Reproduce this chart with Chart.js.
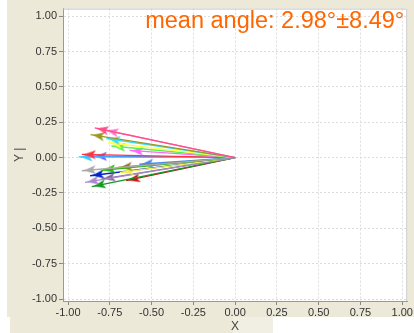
<!DOCTYPE html>
<html>
<head>
<meta charset="utf-8">
<script src="https://cdn.jsdelivr.net/npm/chart.js@4"></script>
<style>
  html, body { margin: 0; padding: 0; background: #fff; }
  #wrap { width: 414px; height: 333px; position: relative; }
</style>
</head>
<body>
<div id="wrap"><canvas id="quiver" width="414" height="333"></canvas></div>
<script>
/* ===============================
   Data (vector tips, tail at origin)
================================ */
const tipX = [-0.84, -0.78, -0.865, -0.77, -0.76, -0.74, -0.632, -0.917, -0.937, -0.85,
              -0.917, -0.80, -0.70, -0.573, -0.69, -0.868, -0.898, -0.80, -0.858, -0.652];
const tipY = [0.21, 0.195, 0.163, 0.135, 0.105, 0.082, 0.051, 0.023, 0.005, 0.01,
              -0.093, -0.089, -0.07, -0.047, -0.105, -0.128, -0.175, -0.152, -0.205, -0.163];
const axisTicks = [-1, -0.75, -0.5, -0.25, 0, 0.25, 0.5, 0.75, 1];
const titleText = "mean angle: 2.98°±8.49°";

const palette = ["#ff4d88", "#ff77cc", "#999922", "#33ddff", "#ffff44", "#55ee55", "#ff66ff",
                 "#ff3344", "#33ccff", "#5566ff", "#aaaaaa", "#22bb00", "#997733", "#4488ee",
                 "#eeee55", "#0022cc", "#aa88cc", "#886699", "#119922", "#cc1111"];

/* ===============================
   Arrow heads
================================ */
function arrowHead(color) {
  // pointing up, tip a little below the centre so it sits just inside the line end
  const cv = document.createElement("canvas");
  cv.width = 10;
  cv.height = 34;
  const c = cv.getContext("2d");
  c.fillStyle = color;
  c.beginPath();
  c.moveTo(5, 19);
  c.lineTo(9.5, 31);
  c.lineTo(5, 28);
  c.lineTo(0.5, 31);
  c.closePath();
  c.fill();
  return cv;
}

function headRotation(ctx) {
  if (ctx.dataIndex === 0) return 0;
  const sx = ctx.chart.scales.x, sy = ctx.chart.scales.y;
  const dx = sx.getPixelForValue(ctx.raw.x) - sx.getPixelForValue(0);
  const dy = sy.getPixelForValue(ctx.raw.y) - sy.getPixelForValue(0);
  return Math.atan2(dy, dx) * 180 / Math.PI + 90;
}

const datasets = tipX.map((x, i) => ({
  data: [{ x: 0, y: 0 }, { x: x, y: tipY[i] }],
  showLine: true,
  borderColor: palette[i],
  backgroundColor: palette[i],
  borderWidth: 1.4,
  pointStyle: arrowHead(palette[i]),
  pointRadius: [0, 5],
  pointBorderWidth: 0,
  pointRotation: headRotation
}));

/* ===============================
   Frame + title plugin
================================ */
const frame = {
  id: "frame",
  beforeDraw(chart) {
    const c = chart.ctx, a = chart.chartArea;
    c.save();
    c.fillStyle = "#ffffff";
    c.fillRect(0, 0, chart.width, chart.height);
    c.fillStyle = "#ece9d8";
    c.fillRect(7, 0, 407, 317);
    c.fillRect(10, 317, 223, 16);
    c.fillStyle = "#f1efe4";
    c.fillRect(233, 317, 40, 16);
    c.fillStyle = "#ffffff";
    c.fillRect(a.left, a.top, a.right - a.left, a.bottom - a.top);
    c.restore();
  },
  afterDraw(chart) {
    const c = chart.ctx, a = chart.chartArea;
    c.save();
    c.strokeStyle = "#c8c8c8";
    c.lineWidth = 1;
    c.beginPath();
    c.moveTo(a.left, a.top + 0.5);
    c.lineTo(a.right - 0.5, a.top + 0.5);
    c.lineTo(a.right - 0.5, a.bottom);
    c.stroke();
    c.fillStyle = "#ff6600";
    c.font = "23.5px 'Liberation Sans', Arial, sans-serif";
    c.textAlign = "right";
    c.textBaseline = "alphabetic";
    c.fillText(titleText, a.right - 3, 28);
    c.restore();
  }
};

const tickFont = { family: "'Liberation Sans', Arial, sans-serif", size: 11 };
const gridOpts = {
  color: "#dddddd",
  lineWidth: 1,
  tickLength: 4,
  tickColor: "#888888",
  tickBorderDash: [],
  drawTicks: true
};

new Chart(document.getElementById("quiver"), {
  type: "scatter",
  data: { datasets },
  plugins: [frame],
  options: {
    responsive: false,
    animation: false,
    events: [],
    layout: { padding: { left: 7, right: 3, top: 5, bottom: 0 } },
    plugins: { legend: { display: false }, tooltip: { enabled: false } },
    scales: {
      x: {
        type: "linear",
        min: -1.03, max: 1.03,
        afterBuildTicks: s => { s.ticks = axisTicks.map(v => ({ value: v })); },
        afterFit: s => { s.height = 32; },
        ticks: {
          font: tickFont, color: "#333", padding: 1, maxRotation: 0, autoSkip: false,
          callback: v => Number(v).toFixed(2)
        },
        grid: gridOpts,
        border: { color: "#999999", dash: [2, 2] },
        title: {
          display: true, text: "X", color: "#444",
          font: { family: "'Liberation Sans', Arial, sans-serif", size: 12, lineHeight: 1 },
          padding: { top: 0, bottom: 0 }
        }
      },
      y: {
        type: "linear",
        min: -1.014, max: 1.054,
        afterBuildTicks: s => { s.ticks = axisTicks.map(v => ({ value: v })); },
        afterFit: s => { s.width = 56; },
        ticks: {
          font: tickFont, color: "#333", padding: 2, autoSkip: false,
          callback: v => Number(v).toFixed(2)
        },
        grid: gridOpts,
        border: { color: "#999999", dash: [2, 2] },
        title: {
          display: true, text: "Y |", color: "#444",
          font: { family: "'Liberation Sans', Arial, sans-serif", size: 12, lineHeight: 1 },
          padding: { top: 7, bottom: 0 }
        }
      }
    }
  }
});
</script>
</body>
</html>
